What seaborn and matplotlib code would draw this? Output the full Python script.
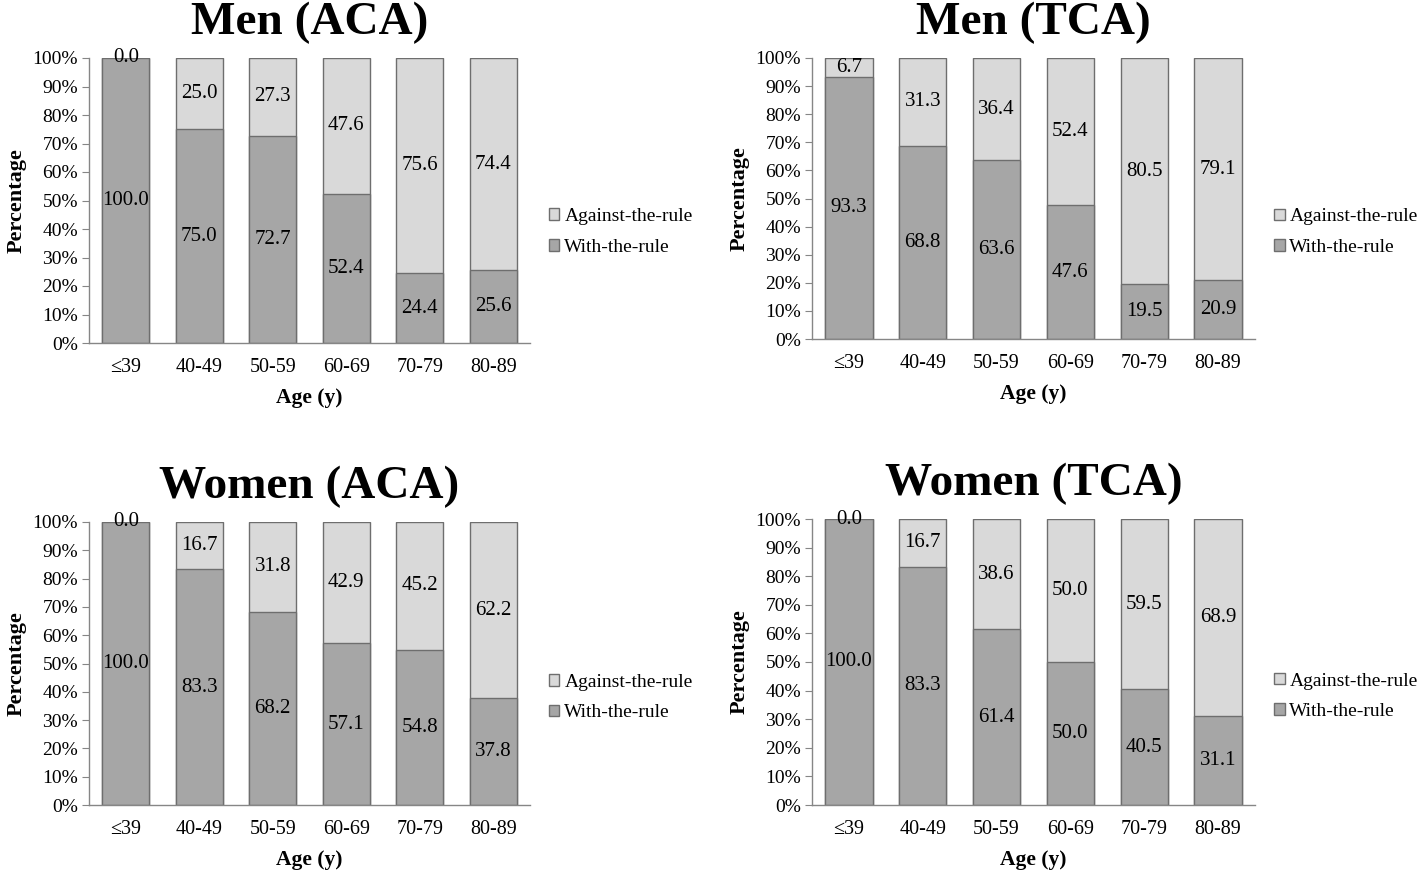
import numpy as np
import pandas as pd
import seaborn as sns
import matplotlib.pyplot as plt
from matplotlib.patches import Patch
from matplotlib.ticker import FixedLocator

ages = ["≤39", "40-49", "50-59", "60-69", "70-79", "80-89"]

men_aca_with = [100.0, 75.0, 72.7, 52.4, 24.4, 25.6]
men_aca_against = [0.0, 25.0, 27.3, 47.6, 75.6, 74.4]
men_tca_with = [93.3, 68.8, 63.6, 47.6, 19.5, 20.9]
men_tca_against = [6.7, 31.3, 36.4, 52.4, 80.5, 79.1]
women_aca_with = [100.0, 83.3, 68.2, 57.1, 54.8, 37.8]
women_aca_against = [0.0, 16.7, 31.8, 42.9, 45.2, 62.2]
women_tca_with = [100.0, 83.3, 61.4, 50.0, 40.5, 31.1]
women_tca_against = [0.0, 16.7, 38.6, 50.0, 59.5, 68.9]

panels = [
    ("Men (ACA)", men_aca_with, men_aca_against, [89, 58, 530, 343], 0.39),
    ("Men (TCA)", men_tca_with, men_tca_against, [812, 58, 1255, 339], 0.38),
    ("Women (ACA)", women_aca_with, women_aca_against, [89, 522, 530, 805], 0.38),
    ("Women (TCA)", women_tca_with, women_tca_against, [812, 519, 1255, 805], 0.38),
]

sns.set_style("white")
plt.rcParams['font.family'] = ['Liberation Serif', 'DejaVu Serif']
plt.rcParams['text.color'] = 'black'
plt.rcParams['axes.labelcolor'] = 'black'
plt.rcParams['xtick.labelcolor'] = 'black'
plt.rcParams['ytick.labelcolor'] = 'black'

W, H = 1419, 875
fig = plt.figure(figsize=(W / 100, H / 100), dpi=100)

dark = "#a6a6a6"
light = "#d9d9d9"
edge = "#6e6e6e"
axis_col = "#868686"

for title, w, a, (x0, y0, x1, y1), leg_y in panels:
    ax = fig.add_axes([x0 / W, 1 - y1 / H, (x1 - x0) / W, (y1 - y0) / H])
    df = pd.DataFrame({"age": ages, "with": w, "against": a})
    df["total"] = df["with"] + df["against"]
    sns.barplot(data=df, x="age", y="total", color=light, saturation=1,
                edgecolor=edge, linewidth=1, width=0.64, ax=ax)
    sns.barplot(data=df, x="age", y="with", color=dark, saturation=1,
                edgecolor=edge, linewidth=1, width=0.64, ax=ax)
    for i, (wv, av) in enumerate(zip(w, a)):
        ax.text(i, wv / 2, f"{wv:.1f}", ha="center", va="center", fontsize=15)
        ax.text(i, wv + av / 2, f"{av:.1f}", ha="center", va="center", fontsize=15)

    ax.set_ylim(0, 100)
    ax.set_xlim(-0.5, 5.5)
    ax.set_yticks(np.arange(0, 101, 10))
    ax.set_yticklabels([f"{v}%" for v in range(0, 101, 10)], fontsize=14)
    ax.set_xticks(range(len(ages)))
    ax.set_xticklabels(ages, fontsize=14.5)
    ax.xaxis.set_minor_locator(FixedLocator(np.arange(-0.5, 6, 1)))
    ax.tick_params(axis="x", which="major", length=0, pad=11)
    ax.tick_params(axis="x", which="minor", length=5, color=axis_col, direction="out")
    ax.tick_params(axis="y", length=5, color=axis_col, direction="out", pad=3, left=True)
    for s in ["top", "right"]:
        ax.spines[s].set_visible(False)
    for s in ["left", "bottom"]:
        ax.spines[s].set_color(axis_col)
        ax.spines[s].set_linewidth(1)

    ax.set_xlabel("Age (y)", fontsize=15.5, fontweight="bold", labelpad=8)
    ax.set_ylabel("Percentage", fontsize=16, fontweight="bold", labelpad=4)
    ax.set_title(title, fontsize=34, fontweight="bold", pad=17)

    handles = [Patch(facecolor=light, edgecolor=edge, label="Against-the-rule"),
               Patch(facecolor=dark, edgecolor=edge, label="With-the-rule")]
    ax.legend(handles=handles, loc="center left", bbox_to_anchor=(1.025, leg_y),
              frameon=False, fontsize=14, handlelength=0.55, handleheight=0.55,
              handletextpad=0.25, labelspacing=0.7, borderaxespad=0)

fig.savefig("out.png", dpi=100)
